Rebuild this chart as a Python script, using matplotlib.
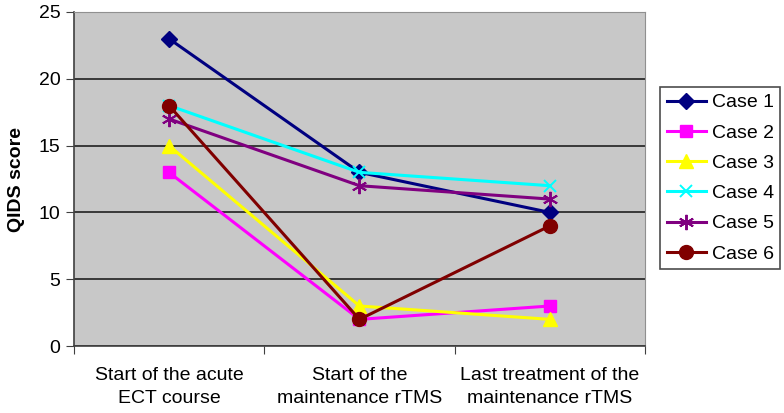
import matplotlib
matplotlib.use('Agg')
import matplotlib.pyplot as plt

# Data
categories = ['Start of the acute\nECT course', 'Start of the\nmaintenance rTMS',
              'Last treatment of the\nmaintenance rTMS']
case1 = [23, 13, 10]
case2 = [13, 2, 3]
case3 = [15, 3, 2]
case4 = [18, 13, 12]
case5 = [17, 12, 11]
case6 = [18, 2, 9]

series = [
    ('Case 1', case1, '#000080', 'D', 8),
    ('Case 2', case2, '#FF00FF', 's', 9),
    ('Case 3', case3, '#FFFF00', '^', 10),
    ('Case 4', case4, '#00FFFF', 'x', 9),
    ('Case 5', case5, '#800080', (6, 2, 0), 11),
    ('Case 6', case6, '#800000', 'o', 10),
]

plt.rcParams['font.family'] = ['Liberation Sans', 'DejaVu Sans']

fig = plt.figure(figsize=(7.84, 4.13), dpi=100)
ax = fig.add_axes([0.094, 0.162, 0.729, 0.809])
ax.set_facecolor('#C8C8C8')

xs = [0.5, 1.5, 2.5]
for name, vals, color, marker, ms in series:
    ax.plot(xs, vals, color=color, marker=marker, markersize=ms, linewidth=2.2,
            markeredgewidth=1.4 if marker in ('x', (6, 2, 0)) else 1,
            markeredgecolor=color, markerfacecolor=color, label=name)

ax.set_xlim(0, 3)
ax.set_ylim(0, 25)
ax.set_yticks([0, 5, 10, 15, 20, 25])
ax.yaxis.grid(True, color='#202020', linewidth=1.2)
ax.set_axisbelow(True)

ax.set_xticks([0, 1, 2, 3])
ax.set_xticklabels([])
ax.set_xticks(xs, minor=True)
ax.set_xticklabels(categories, minor=True, fontsize=14, linespacing=1.45)
ax.tick_params(axis='x', which='minor', length=0, pad=15)
ax.tick_params(axis='x', which='major', direction='out', length=6, color='#404040')
ax.tick_params(axis='y', direction='out', length=6, labelsize=14, color='#404040')

for side in ('top', 'right'):
    ax.spines[side].set_color('#909090')
for side in ('left', 'bottom'):
    ax.spines[side].set_color('#404040')
    ax.spines[side].set_linewidth(1.2)

ax.set_ylabel('QIDS score', fontsize=14, fontweight='bold', labelpad=10)

leg = ax.legend(loc='upper left', bbox_to_anchor=(660 / 784, 1 - 87 / 413),
                bbox_transform=fig.transFigure, borderaxespad=0, fontsize=14,
                frameon=True, fancybox=False, edgecolor='#202020',
                handlelength=2.0, handletextpad=0.3, labelspacing=0.65, borderpad=0.35)
leg.get_frame().set_linewidth(1.2)

fig.savefig('out.png', dpi=100)
